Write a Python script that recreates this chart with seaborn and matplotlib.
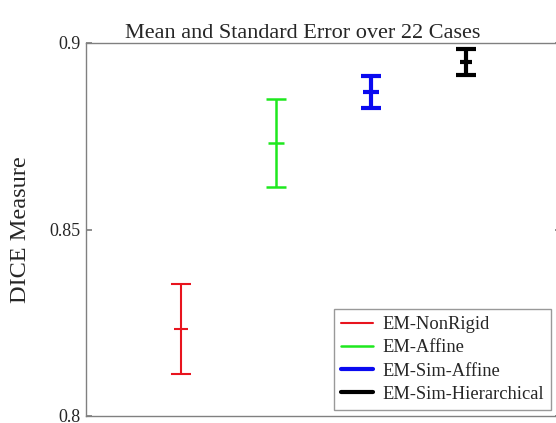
import matplotlib
matplotlib.use("Agg")
import matplotlib.pyplot as plt
from matplotlib.lines import Line2D
import seaborn as sns

# mean DICE and standard error per method (22 cases)
methods = ["EM-NonRigid", "EM-Affine", "EM-Sim-Affine", "EM-Sim-Hierarchical"]
means = [0.8233, 0.8732, 0.8869, 0.8949]
errors = [0.0121, 0.0118, 0.0042, 0.0035]
colors = ["#e8141e", "#1ee81e", "#0a0af0", "#000000"]
widths = [1.5, 1.8, 3.0, 3.0]
midsizes = [10, 11, 11, 8]
positions = [1, 2, 3, 4]

sns.set_theme(style="white")
plt.rcParams["font.family"] = ["Liberation Serif", "DejaVu Serif"]

fig = plt.figure(figsize=(5.56, 4.23), dpi=100)
ax = fig.add_axes([86 / 556, 7 / 423, 475 / 556, 373 / 423])

for x, m, e, c, w, ms in zip(positions, means, errors, colors, widths, midsizes):
    ax.errorbar(x, m, yerr=e, color=c, lw=w, capsize=7.2, capthick=w,
                marker="_", markersize=ms, markeredgewidth=w)

handles = [Line2D([0], [0], color=c, lw=w) for c, w in zip(colors, widths)]
leg = ax.legend(handles, methods, loc="lower right", fontsize=13.3,
                frameon=True, fancybox=False, borderaxespad=0.0,
                bbox_to_anchor=((551 - 86) / 475, 6 / 373),
                handlelength=1.7, handletextpad=0.5, labelspacing=0.33,
                borderpad=0.4)
leg.get_frame().set_edgecolor("#808080")
leg.get_frame().set_linewidth(1.0)

ax.set_xlim(0, 5)
ax.set_ylim(0.8, 0.9)
ax.set_xticks([])
ax.set_yticks([0.8, 0.85, 0.9])
ax.set_yticklabels(["0.8", "0.85", "0.9"])
ax.tick_params(axis="y", direction="in", length=4, labelsize=13,
               right=True, left=True, color="#808080", pad=4)
for s in ax.spines.values():
    s.set_color("#808080")
    s.set_linewidth(1.0)

ax.set_title("Mean and Standard Error over 22 Cases", fontsize=16, pad=3,
             x=(303 - 86) / 475)
ax.set_ylabel("DICE Measure", fontsize=17.5, labelpad=13)

fig.savefig("out.png", dpi=100)
